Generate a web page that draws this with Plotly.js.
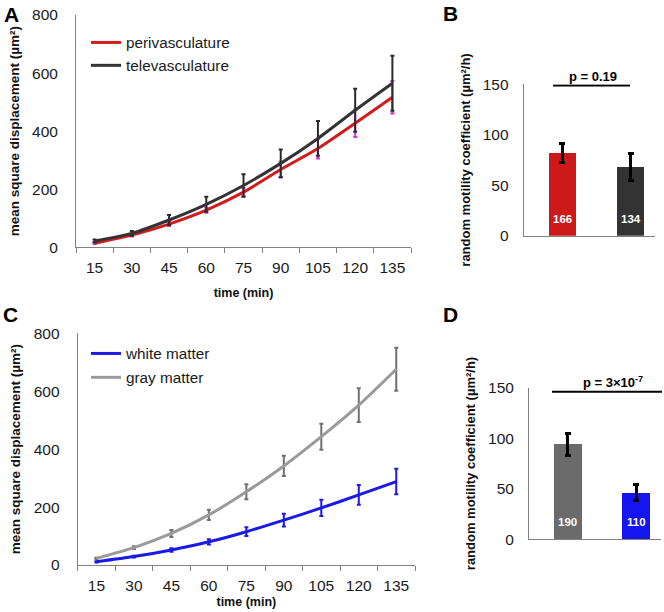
<!DOCTYPE html>
<html>
<head>
<meta charset="utf-8">
<script src="https://cdn.plot.ly/plotly-3.0.1.min.js"></script>
<style>html,body{margin:0;padding:0;background:#fff;}#chart{width:664px;height:612px;}</style>
</head>
<body>
<div id="chart"></div>
<script>
// ---- data ----
const timeLabels = ['15','30','45','60','75','90','105','120','135'];
const periMSD = [14, 42, 80, 128, 190, 268, 340, 427, 517];
const periErr = [3, 5, 7, 9, 14, 27, 34, 47, 56];
const teleMSD = [22, 48, 94, 148, 213, 289, 375, 472, 565];
const teleErr = [5, 8, 17, 26, 39, 48, 60, 74, 95];

const whiteMSD = [11, 29, 52, 80, 115, 155, 197, 242, 288];
const whiteErr = [2, 3, 6, 9, 15, 22, 28, 34, 44];
const grayMSD = [23, 60, 109, 173, 253, 342, 443, 552, 676];
const grayErr = [2, 5, 12, 18, 26, 35, 45, 58, 74];

const bCats = ['perivasculature', 'televasculature'];
const bVals = [82, 68];
const bErr = [9.5, 13];
const bN = ['166', '134'];
const bP = 'p = 0.19';

const dCats = ['gray matter', 'white matter'];
const dVals = [94, 46];
const dErr = [11, 8];
const dN = ['190', '110'];
const dP = 'p = 3×10<sup>-7</sup>';

// ---- styling ----
const FONT = 'Arial, "Liberation Sans", sans-serif';
const AX = '#808080';
const W = 664, H = 612;
const px = v => v / W;
const py = v => 1 - v / H;

const traces = [
  {x: timeLabels, y: periMSD, type: 'scatter', mode: 'lines', name: 'perivasculature',
   line: {color: '#d01c1c', width: 3, shape: 'spline', smoothing: 0.6},
   error_y: {type: 'data', array: periErr, visible: true, color: '#d633d6', thickness: 2, width: 2},
   xaxis: 'x', yaxis: 'y', legend: 'legend'},
  {x: timeLabels, y: teleMSD, type: 'scatter', mode: 'lines', name: 'televasculature',
   line: {color: '#333333', width: 3, shape: 'spline', smoothing: 0.6},
   error_y: {type: 'data', array: teleErr, visible: true, color: '#2a2a2a', thickness: 2, width: 2},
   xaxis: 'x', yaxis: 'y', legend: 'legend'},
  {x: bCats, y: bVals, type: 'bar', width: 0.4, showlegend: false,
   marker: {color: ['#cc1a1a', '#333333']},
   error_y: {type: 'data', array: bErr, visible: true, color: '#000', thickness: 3, width: 3},
   xaxis: 'x2', yaxis: 'y2'},
  {x: timeLabels, y: whiteMSD, type: 'scatter', mode: 'lines', name: 'white matter',
   line: {color: '#1a1ae6', width: 3, shape: 'spline', smoothing: 0.6},
   error_y: {type: 'data', array: whiteErr, visible: true, color: '#1a1ae6', thickness: 2, width: 2},
   xaxis: 'x3', yaxis: 'y3', legend: 'legend2', legendgroup: 'c1'},
  {x: timeLabels, y: grayMSD, type: 'scatter', mode: 'lines', name: 'gray matter',
   line: {color: '#9a9a9a', width: 3, shape: 'spline', smoothing: 0.6},
   error_y: {type: 'data', array: grayErr, visible: true, color: '#707070', thickness: 2, width: 2},
   xaxis: 'x3', yaxis: 'y3', legend: 'legend2', legendgroup: 'c2'},
  {x: dCats, y: dVals, type: 'bar', width: 0.4, showlegend: false,
   marker: {color: ['#6b6b6b', '#1515f0']},
   error_y: {type: 'data', array: dErr, visible: true, color: '#000', thickness: 3, width: 3},
   xaxis: 'x4', yaxis: 'y4'}
];

const tickFont = {family: FONT, size: 15.5, color: '#1a1a1a'};
const titleFontA = {family: FONT, size: 13.5, color: '#111', weight: 'bold'};
const titleFontB = {family: FONT, size: 13, color: '#111', weight: 'bold'};
const xTitleFont = {family: FONT, size: 12.5, color: '#111', weight: 'bold'};

function lineX(domain, anchor, standoff) {
  return {domain: domain, anchor: anchor, type: 'category', range: [-0.5, 8.5],
    showline: true, linecolor: AX, linewidth: 1, ticks: 'outside', tickson: 'boundaries',
    ticklen: 5, tickcolor: AX, showgrid: false, zeroline: false, tickfont: tickFont,
    ticklabelstandoff: 6,
    title: {text: 'time (min)', font: xTitleFont, standoff: standoff}};
}
function lineY(domain, anchor) {
  return {domain: domain, anchor: anchor, range: [0, 800], dtick: 200,
    showline: true, linecolor: AX, linewidth: 1, ticks: '', ticklabelstandoff: 14,
    showgrid: false, zeroline: false, tickfont: tickFont,
    title: {text: 'mean square displacement (µm²)', font: titleFontA, standoff: 9}};
}
function barX(domain, anchor) {
  return {domain: domain, anchor: anchor, type: 'category', range: [-0.57, 1.36],
    showline: true, linecolor: AX, linewidth: 1, ticks: '', showticklabels: false,
    showgrid: false, zeroline: false};
}
function barY(domain, anchor) {
  return {domain: domain, anchor: anchor, range: [0, 150], dtick: 50,
    showline: true, linecolor: AX, linewidth: 1, ticks: '', ticklabelstandoff: 11,
    showgrid: false, zeroline: false, tickfont: tickFont,
    title: {text: 'random motility coefficient (µm²/h)', font: titleFontB, standoff: 9}};
}

const annotations = [];
const letters = [['A', 11, 14], ['B', 450, 13], ['C', 10, 314], ['D', 450, 314]];
letters.forEach(l => annotations.push({text: l[0], x: px(l[1]), y: py(l[2]), xref: 'paper', yref: 'paper',
  showarrow: false, xanchor: 'center', yanchor: 'middle', font: {family: FONT, size: 21, color: '#000', weight: 'bold'}}));
bCats.forEach((c, i) => annotations.push({text: bN[i], x: c, y: 16.5, xref: 'x2', yref: 'y2', showarrow: false,
  xanchor: 'center', yanchor: 'middle', font: {family: FONT, size: 11.5, color: '#fff', weight: 'bold'}}));
dCats.forEach((c, i) => annotations.push({text: dN[i], x: c, y: 17, xref: 'x4', yref: 'y4', showarrow: false,
  xanchor: 'center', yanchor: 'middle', font: {family: FONT, size: 11.5, color: '#fff', weight: 'bold'}}));
annotations.push({text: bP, x: px(593), y: py(76), xref: 'paper', yref: 'paper', showarrow: false,
  xanchor: 'center', yanchor: 'middle', font: {family: FONT, size: 13, color: '#000', weight: 'bold'}});
annotations.push({text: dP, x: px(613), y: py(382), xref: 'paper', yref: 'paper', showarrow: false,
  xanchor: 'center', yanchor: 'middle', font: {family: FONT, size: 13, color: '#000', weight: 'bold'}});

const shapes = [
  {type: 'line', xref: 'paper', yref: 'y2', x0: px(553), x1: px(630), y0: 148.7, y1: 148.7, line: {color: '#000', width: 2}},
  {type: 'line', xref: 'paper', yref: 'y4', x0: px(552), x1: px(662), y0: 146, y1: 146, line: {color: '#000', width: 2}}
];

const legFont = {family: FONT, size: 15.3, color: '#1a1a1a'};
const layout = {
  width: W, height: H, margin: {l: 0, r: 0, t: 0, b: 0},
  paper_bgcolor: '#fff', plot_bgcolor: 'rgba(0,0,0,0)',
  font: {family: FONT},
  xaxis: lineX([px(76), px(411)], 'y', 13),
  yaxis: lineY([py(247.3), py(15)], 'x'),
  xaxis2: barX([px(523.7), px(655)], 'y2'),
  yaxis2: barY([py(235.7), py(84.3)], 'x2'),
  xaxis3: lineX([px(77.7), px(415)], 'y3', 4),
  yaxis3: lineY([py(565), py(333.3)], 'x3'),
  xaxis4: barX([px(529), px(660.7)], 'y4'),
  yaxis4: barY([py(539.3), py(387.7)], 'x4'),
  legend: {x: px(86), y: py(26), xanchor: 'left', yanchor: 'top', bgcolor: 'rgba(0,0,0,0)',
    font: legFont, itemwidth: 30, tracegroupgap: 0},
  legend2: {x: px(86), y: py(337), xanchor: 'left', yanchor: 'top', bgcolor: 'rgba(0,0,0,0)',
    font: legFont, itemwidth: 30, tracegroupgap: 1},
  annotations: annotations,
  shapes: shapes,
  bargap: 0
};

Plotly.newPlot('chart', traces, layout, {staticPlot: true, displayModeBar: false});
</script>
</body>
</html>
